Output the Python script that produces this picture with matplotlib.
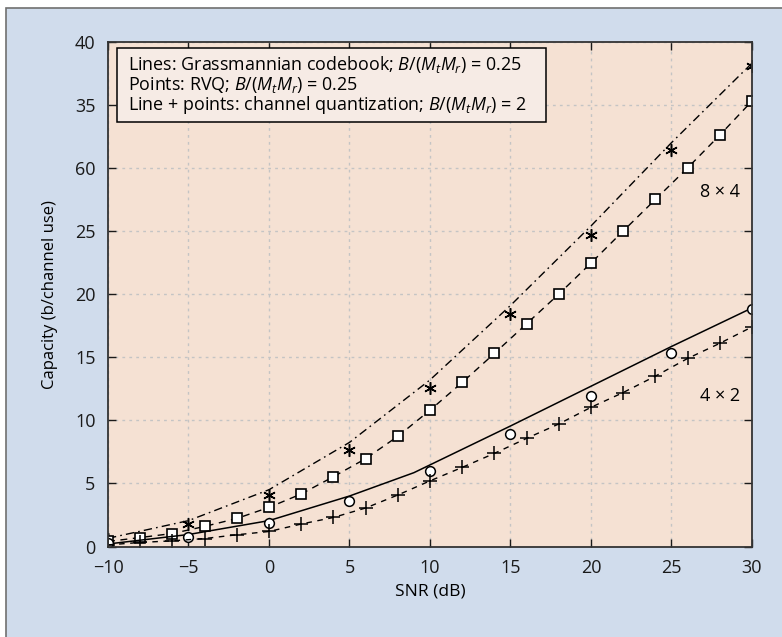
import matplotlib
matplotlib.use('Agg')
import matplotlib.pyplot as plt
from matplotlib.patches import Rectangle
from matplotlib.ticker import MultipleLocator

FONT = 'Open Sans'
plt.rcParams['font.family'] = [FONT, 'DejaVu Sans']
plt.rcParams['mathtext.fontset'] = 'custom'
plt.rcParams['mathtext.rm'] = FONT
plt.rcParams['mathtext.it'] = FONT + ':italic'

# data
snr_5 = [-10, -5, 0, 5, 10, 15, 20, 25, 30]
snr_2 = list(range(-10, 31, 2))

grass_8x4 = [0.65, 2.05, 4.5, 8.25, 13.2, 19.1, 25.4, 32.0, 38.3]
rvq_8x4 = [0.58, 1.78, 4.1, 7.67, 12.57, 18.4, 24.7, 31.4, 38.1]
cq_8x4 = [0.4, 0.71, 1.03, 1.59, 2.22, 3.1, 4.16, 5.53, 6.96, 8.73, 10.8,
          13.0, 15.3, 17.65, 20.0, 22.46, 25.0, 27.5, 30.0, 32.6, 35.3]

grass_4x2_snr = [-10, -5, 0, 5, 9, 15, 20, 25, 30]
grass_4x2 = [0.2, 0.95, 2.05, 4.0, 5.85, 9.55, 12.7, 15.85, 18.9]
rvq_4x2 = [0.24, 0.79, 1.83, 3.63, 5.95, 8.94, 11.9, 15.35, 18.8]
cq_4x2 = [0.13, 0.32, 0.45, 0.63, 0.93, 1.19, 1.78, 2.30, 3.05, 4.08, 5.2,
          6.27, 7.38, 8.57, 9.71, 11.03, 12.2, 13.5, 14.9, 16.1, 17.4]

yticks = [0, 5, 10, 15, 20, 25, 30, 35, 40]
ytick_labels = ['0', '5', '10', '15', '20', '25', '60', '35', '40']

legend_lines = ['Lines: Grassmannian codebook; $B/(M_tM_r)$ = 0.25',
                'Points: RVQ; $B/(M_tM_r)$ = 0.25',
                'Line + points: channel quantization; $B/(M_tM_r)$ = 2']

W, H = 782, 637
fig = plt.figure(figsize=(W / 100, H / 100), dpi=100)
fig.patch.set_facecolor('white')
bg = Rectangle((6 / W, -0.1), 1.2, 1 - 8 / H + 0.1,
               transform=fig.transFigure, facecolor='#d0dcec',
               edgecolor='#707070', linewidth=1.2, zorder=-10)
fig.add_artist(bg)

ax = fig.add_axes([108 / W, 1 - 546.5 / H, 644 / W, 504.8 / H])
ax.set_facecolor('#f5e1d3')

# 8 x 4
ax.plot(snr_5, grass_8x4, color='black', lw=1, dashes=[6, 3, 1.2, 3])
ax.plot(snr_5, rvq_8x4, ls='none', marker=(6, 2, 0), ms=9, mew=1.1, color='black')
ax.plot(snr_2, cq_8x4, color='black', lw=1, dashes=[5, 4], marker='s', ms=7,
        mfc='white', mec='black', mew=1.2)

# 4 x 2
ax.plot(grass_4x2_snr, grass_4x2, color='black', lw=1.1)
ax.plot(snr_5, rvq_4x2, ls='none', marker='o', ms=7, mfc='white', mec='black', mew=1.1)
ax.plot(snr_2, cq_4x2, color='black', lw=1, dashes=[4, 4], marker='+', ms=9.5, mew=1.1)

ax.set_xlim(-10, 30)
ax.set_ylim(0, 40)
ax.xaxis.set_major_locator(MultipleLocator(5))
ax.set_yticks(yticks)
ax.set_yticklabels(ytick_labels)
ax.grid(True, color='#c4c4c4', ls=(0, (2, 3)), lw=1)
ax.tick_params(direction='in', length=6, width=1, top=True, right=True,
               labelsize=13, colors='#1a1a1a', pad=9)
for s in ax.spines.values():
    s.set_color('#333333')
    s.set_linewidth(1.3)

ax.set_xlabel('SNR (dB)', fontsize=12.5, labelpad=5)
ax.set_ylabel('Capacity (b/channel use)', fontsize=12, labelpad=12)

ax.text(28.0, 28.1, '8 \u00d7 4', fontsize=13, ha='center', va='center')
ax.text(28.0, 11.96, '4 \u00d7 2', fontsize=13, ha='center', va='center')

# legend box drawn by hand
box = Rectangle((116.7 / W, 1 - 121.7 / H), 429 / W, 73.4 / H,
                transform=fig.transFigure, facecolor='#f6ebe5',
                edgecolor='black', linewidth=1.1, zorder=5, clip_on=False)
ax.add_patch(box)
for yb, line in zip([70, 90, 110], legend_lines):
    ax.text(128 / W, 1 - yb / H, line, transform=fig.transFigure, fontsize=12.9,
            ha='left', va='baseline', zorder=6)

fig.savefig('out.png', dpi=100)
